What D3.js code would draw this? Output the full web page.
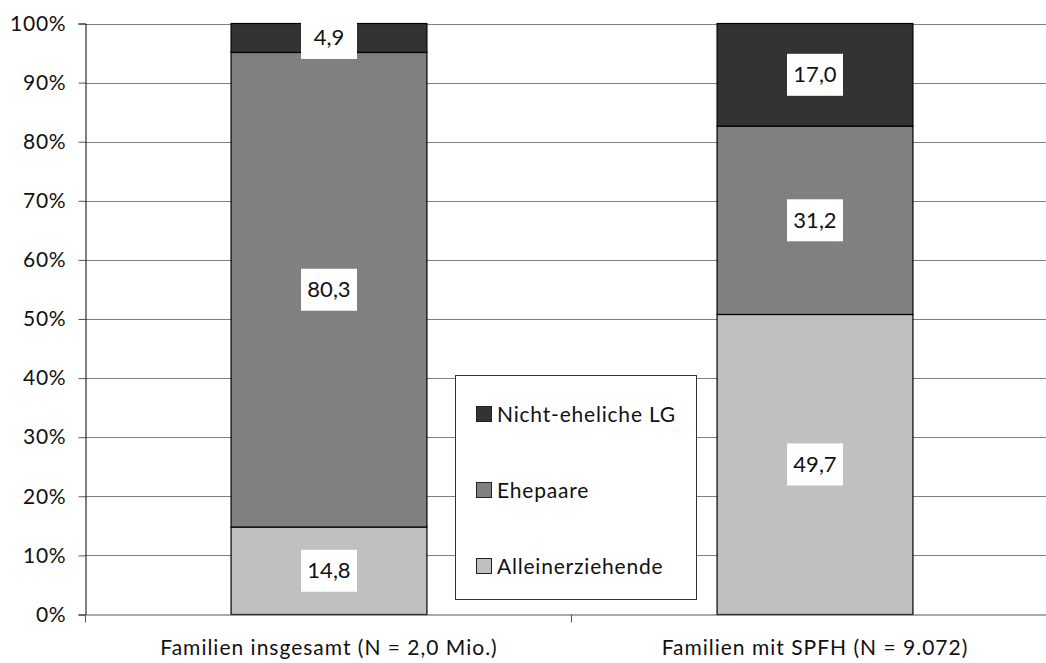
<!DOCTYPE html>
<html>
<head>
<meta charset="utf-8">
<script src="https://cdn.jsdelivr.net/npm/d3@7"></script>
<style>
  html, body { margin: 0; padding: 0; background: #fff; }
  svg { display: block; }
  text { font-family: Lato, "DejaVu Sans", sans-serif; fill: #111; }
</style>
</head>
<body>
<svg id="chart" width="1046" height="663"></svg>
<script>
const categories = ["Familien insgesamt (N = 2,0 Mio.)", "Familien mit SPFH (N = 9.072)"];
const seriesNames = ["Alleinerziehende", "Ehepaare", "Nicht-eheliche LG"];
const alleinerziehende = [14.8, 49.7];
const ehepaare = [80.3, 31.2];
const nichtEhelich = [4.9, 17.0];
const yTicks = [0, 0.1, 0.2, 0.3, 0.4, 0.5, 0.6, 0.7, 0.8, 0.9, 1.0];
const colors = ["#c0c0c0", "#808080", "#333333"];

(function () {
const svg = d3.select("#chart");
const pLeft = 85, pRight = 1057, pTop = 23.5, pBottom = 614.5;

const x = d3.scaleBand().domain(categories).range([pLeft, pRight]).padding(0);
const y = d3.scaleLinear().domain([0, 1]).range([pBottom, pTop]);
const barW = x.bandwidth() * 0.403;

// gridlines
svg.append("g").selectAll("line").data(yTicks.filter(d => d > 0)).join("line")
  .attr("x1", pLeft).attr("x2", 1046)
  .attr("y1", d => Math.round(y(d)) + 0.5).attr("y2", d => Math.round(y(d)) + 0.5)
  .attr("stroke", "#808080").attr("stroke-width", 1);

// y axis
const yAxis = d3.axisLeft(y).tickValues(yTicks).tickSize(7).tickPadding(12)
  .tickFormat(d => Math.round(d * 100) + "%");
const gy = svg.append("g").attr("transform", `translate(${pLeft + 0.5},0)`).call(yAxis);
gy.select(".domain").attr("stroke", "#000");
gy.selectAll(".tick line").attr("stroke", "#555");
gy.selectAll(".tick text").style("font-size", "21px").style("font-family", "Lato, sans-serif")
  .style("letter-spacing", "0.8px").attr("fill", "#111");

// data stacked (normalized)
const rows = categories.map((c, i) => ({
  cat: c,
  "Alleinerziehende": alleinerziehende[i],
  "Ehepaare": ehepaare[i],
  "Nicht-eheliche LG": nichtEhelich[i]
}));
const stack = d3.stack().keys(seriesNames).offset(d3.stackOffsetExpand);
const stacked = stack(rows);

const gBars = svg.append("g");
stacked.forEach((s, si) => {
  gBars.selectAll(null).data(s).join("rect")
    .attr("x", d => x(d.data.cat) + (x.bandwidth() - barW) / 2 + 1)
    .attr("y", d => y(d[1]))
    .attr("width", barW)
    .attr("height", d => y(d[0]) - y(d[1]))
    .attr("fill", colors[si])
    .attr("stroke", "#000").attr("stroke-width", 1.2);
});

// x axis
svg.append("line").attr("x1", pLeft).attr("x2", 1046)
  .attr("y1", pBottom + 0.5).attr("y2", pBottom + 0.5).attr("stroke", "#555");
const xTickPos = [x(categories[0]), x(categories[1])];
svg.append("g").selectAll("line").data(xTickPos).join("line")
  .attr("x1", d => Math.round(d) + 0.5).attr("x2", d => Math.round(d) + 0.5)
  .attr("y1", pBottom).attr("y2", pBottom + 8).attr("stroke", "#555");
svg.append("g").selectAll("text").data(categories).join("text")
  .attr("x", d => x(d) + x.bandwidth() / 2 + 1).attr("y", 655)
  .attr("text-anchor", "middle").style("font-size", "21px").style("letter-spacing", "1px").text(d => d);

// legend
const lg = svg.append("g");
lg.append("rect").attr("x", 455.5).attr("y", 375.5).attr("width", 241).attr("height", 224)
  .attr("fill", "#fff").attr("stroke", "#333").attr("stroke-width", 1);
const legendItems = seriesNames.slice().reverse();
const legendColors = colors.slice().reverse();
legendItems.forEach((n, i) => {
  const cy = 414 + i * 76;
  lg.append("rect").attr("x", 476.5).attr("y", cy - 7.5).attr("width", 15).attr("height", 15)
    .attr("fill", legendColors[i]).attr("stroke", "#222").attr("stroke-width", 1);
  lg.append("text").attr("x", 497).attr("y", cy + 7.5).style("font-size", "21px")
    .style("letter-spacing", "0.8px").text(n);
});

// value labels
const gLab = svg.append("g");
stacked.forEach((s, si) => {
  s.forEach(d => {
    const v = d.data[seriesNames[si]];
    const cx = x(d.data.cat) + x.bandwidth() / 2 + 1;
    const cy = (y(d[0]) + y(d[1])) / 2;
    const g = gLab.append("g");
    const t = g.append("text").attr("x", cx).attr("y", cy + 7.5)
      .attr("text-anchor", "middle").style("font-size", "22px")
      .text(d3.format(".1f")(v).replace(".", ","));
    const bb = t.node().getBBox();
    g.insert("rect", "text").attr("x", cx - 28).attr("y", cy - 21)
      .attr("width", 56).attr("height", 42).attr("fill", "#fff");
  });
});
})();
</script>
</body>
</html>
